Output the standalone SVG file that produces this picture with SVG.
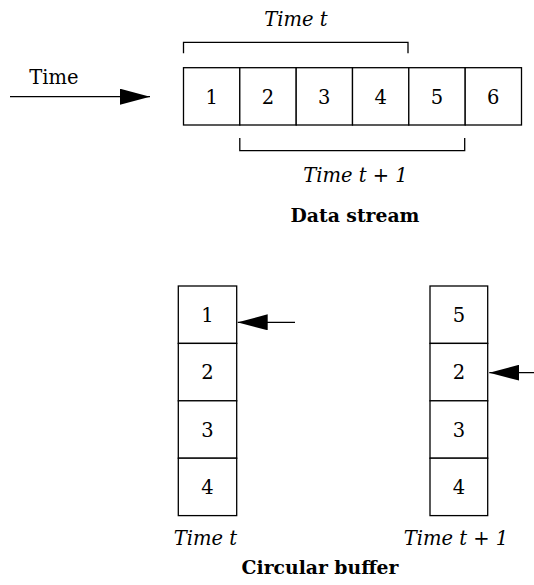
<svg xmlns="http://www.w3.org/2000/svg" width="534" height="585" viewBox="0 0 534 585">
<style>
.box{fill:#fff;stroke:#000;stroke-width:1.3}
.num{font-family:"DejaVu Serif",serif;font-size:19.5px;text-anchor:middle;fill:#000}
.lbl{font-family:"DejaVu Serif",serif;font-size:19.5px;font-style:italic;text-anchor:middle;fill:#000}
.ttl{font-family:"DejaVu Serif",serif;font-size:18.8px;font-weight:bold;text-anchor:middle;fill:#000}
.ln{fill:none;stroke:#000;stroke-width:1.3}
</style>
<defs>
<marker id="ah" viewBox="0 0 30 16" refX="30" refY="8" markerWidth="30" markerHeight="16" markerUnits="userSpaceOnUse" orient="auto">
<path d="M0,0 L30,8 L0,16 Z" fill="#000"/>
</marker>
</defs>
<g id="stream">
<g id="s1"><rect class="box" x="183.5" y="67.7" width="56.3" height="57.3"/><text class="num" x="211.6" y="103.5">1</text></g>
<g id="s2"><rect class="box" x="239.8" y="67.7" width="56.4" height="57.3"/><text class="num" x="268" y="103.5">2</text></g>
<g id="s3"><rect class="box" x="296.2" y="67.7" width="56.3" height="57.3"/><text class="num" x="324.3" y="103.5">3</text></g>
<g id="s4"><rect class="box" x="352.5" y="67.7" width="56.3" height="57.3"/><text class="num" x="380.6" y="103.5">4</text></g>
<g id="s5"><rect class="box" x="408.8" y="67.7" width="56.4" height="57.3"/><text class="num" x="437" y="103.5">5</text></g>
<g id="s6"><rect class="box" x="465.2" y="67.7" width="56.3" height="57.3"/><text class="num" x="493.3" y="103.5">6</text></g>
</g>
<g id="bufA">
<g id="a1"><rect class="box" x="178.3" y="286" width="58.4" height="57.4"/><text class="num" x="207.5" y="321.8">1</text></g>
<g id="a2"><rect class="box" x="178.3" y="343.4" width="58.4" height="57.4"/><text class="num" x="207.5" y="379.2">2</text></g>
<g id="a3"><rect class="box" x="178.3" y="400.8" width="58.4" height="57.4"/><text class="num" x="207.5" y="436.6">3</text></g>
<g id="a4"><rect class="box" x="178.3" y="458.2" width="58.4" height="57.4"/><text class="num" x="207.5" y="494">4</text></g>
</g>
<g id="bufB">
<g id="b1"><rect class="box" x="430" y="286" width="57.7" height="57.4"/><text class="num" x="458.9" y="321.8">5</text></g>
<g id="b2"><rect class="box" x="430" y="343.4" width="57.7" height="57.4"/><text class="num" x="458.9" y="379.2">2</text></g>
<g id="b3"><rect class="box" x="430" y="400.8" width="57.7" height="57.4"/><text class="num" x="458.9" y="436.6">3</text></g>
<g id="b4"><rect class="box" x="430" y="458.2" width="57.7" height="57.4"/><text class="num" x="458.9" y="494">4</text></g>
</g>
<g id="connectors">
<path class="ln" d="M183.5,53.3 V42.3 H408 V53.3"/>
<path class="ln" d="M239.8,138 V150.7 H464.7 V138"/>
<line class="ln" x1="10" y1="96.7" x2="150" y2="96.7" marker-end="url(#ah)"/>
<line class="ln" x1="295" y1="322.3" x2="237.7" y2="322.3" marker-end="url(#ah)"/>
<line class="ln" x1="534" y1="372.7" x2="489.3" y2="372.7" marker-end="url(#ah)"/>
</g>
<g id="labels">
<text class="lbl" x="296" y="25.7">Time t</text>
<text class="lbl" x="355.5" y="181.7">Time t + 1</text>
<text class="num" x="54" y="84.3">Time</text>
<text class="ttl" x="355" y="222">Data stream</text>
<text class="lbl" x="205.5" y="545">Time t</text>
<text class="lbl" x="456" y="545">Time t + 1</text>
<text class="ttl" x="320" y="574">Circular buffer</text>
</g>
</svg>
